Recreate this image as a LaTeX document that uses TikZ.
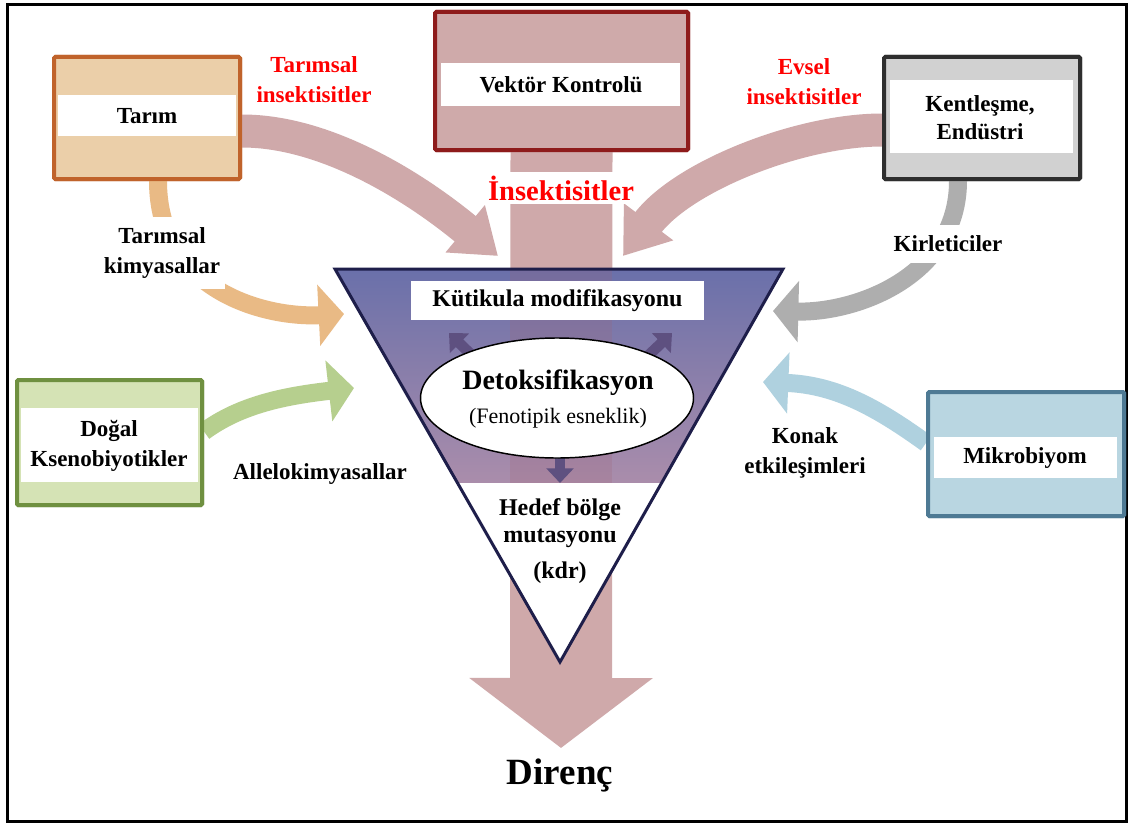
\documentclass[tikz,border=0pt]{standalone}
\usepackage{fontspec}
\setmainfont{Liberation Serif}
\usetikzlibrary{arrows.meta,calc,shapes.geometric}
\definecolor{tarimfill}{HTML}{EBCFA9}
\definecolor{tarimline}{HTML}{C0632B}
\definecolor{vekfill}{HTML}{CFAAAA}
\definecolor{vekline}{HTML}{8E1B1B}
\definecolor{kentfill}{HTML}{D1D1D1}
\definecolor{kentline}{HTML}{2E2E2E}
\definecolor{dogfill}{HTML}{D5E3B5}
\definecolor{dogline}{HTML}{6F9040}
\definecolor{mikfill}{HTML}{B9D6E1}
\definecolor{mikline}{HTML}{4E7A94}
\definecolor{pinkarr}{HTML}{CFA9AA}
\definecolor{orangearr}{HTML}{E9BA85}
\definecolor{grayarr}{HTML}{AEAEAE}
\definecolor{greenarr}{HTML}{B6CF8E}
\definecolor{bluearr}{HTML}{AFD1DF}
\definecolor{tritop}{HTML}{6A70AA}
\definecolor{trimid}{HTML}{8D80AC}
\definecolor{tribot}{HTML}{AA8DAB}
\definecolor{triline}{HTML}{1E1E4A}
\definecolor{innerarr}{HTML}{5E5080}
\definecolor{bandtint}{HTML}{A06070}
\definecolor{redtxt}{HTML}{FF0000}
\begin{document}
\begin{tikzpicture}[x=0.75pt,y=-0.75pt,
  box/.style={draw,line width=3pt,rounded corners=1pt,inner sep=0pt},
  lbl/.style={font=\fontsize{17.25}{22.5}\selectfont\bfseries,align=center,inner sep=1pt},
  redlbl/.style={lbl,text=redtxt},
  bigcurve/.style={draw=pinkarr,line width=24.75pt,-{Triangle[length=32pt,width=44pt]}},
  smallcurve/.style={line width=13.5pt,-{Triangle[length=19pt,width=45pt]}},
  innerarrow/.style={draw=innerarr,line width=8pt,-{Triangle[length=11pt,width=20pt]}},
  tritext/.style={font=\fontsize{18}{20.25}\selectfont\bfseries,align=center,inner sep=1pt}
]
\useasboundingbox (0,0) rectangle (1131,824);
\fill[white] (0,0) rectangle (1131,824);
\draw[line width=2.25pt] (7,5) rectangle (1126,821);

% boxes (nodes)
\node[box,draw=tarimline,fill=tarimfill,minimum width=139.5pt,minimum height=91.5pt] (tarim) at (147,118) {};
\node[box,draw=vekline,fill=vekfill,minimum width=189.75pt,minimum height=103.5pt] (vektor) at (561.5,81) {};
\node[box,draw=kentline,fill=kentfill,minimum width=147pt,minimum height=91.5pt] (kent) at (982,118) {};
\node[box,draw=dogline,fill=dogfill,minimum width=138.75pt,minimum height=93.75pt] (dogal) at (109.5,442.5) {};
\node[box,draw=mikline,fill=mikfill,minimum width=147pt,minimum height=93pt] (mikro) at (1026,454) {};

% end points
\coordinate (tipD) at (561,748);
\coordinate (tipTL) at (498,256);
\coordinate (tipTR) at (623,256);
\coordinate (tipOr) at (344,314);
\coordinate (tipGr) at (773,311);
\coordinate (tipGn) at (354,388);
\coordinate (tipBl) at (763,382);

% big vertical arrow
\draw[draw=pinkarr,line width=76.5pt,-{Triangle[length=52.5pt,width=135pt]}] (vektor.south) -- (tipD);

% curved arrows
\draw[bigcurve] ($(tarim.east)+(0,13)$) .. controls (330,131) and (421,192) .. (tipTL);
\draw[bigcurve] ($(kent.west)+(0,12)$) .. controls (800,130) and (683,176) .. (tipTR);
\draw[smallcurve,draw=orangearr] ($(tarim.south)+(11,0)$) .. controls (158,290) and (264,318) .. (tipOr);
\draw[smallcurve,draw=grayarr] ($(kent.south)+(-24,0)$) .. controls (958,275) and (858,313) .. (tipGr);
\draw[smallcurve,draw=greenarr] ($(dogal.east)+(0,-11)$) .. controls (240,405) and (284,396) .. (tipGn);
\draw[smallcurve,draw=bluearr] ($(mikro.west)+(0,-11)$) .. controls (880,410) and (838,385) .. (tipBl);

% redraw boxes on top of arrows
\node[box,draw=tarimline,fill=tarimfill,minimum width=139.5pt,minimum height=91.5pt] at (tarim) {};
\node[box,draw=vekline,fill=vekfill,minimum width=189.75pt,minimum height=103.5pt] at (vektor) {};
\node[box,draw=kentline,fill=kentfill,minimum width=147pt,minimum height=91.5pt] at (kent) {};
\node[box,draw=dogline,fill=dogfill,minimum width=138.75pt,minimum height=93.75pt] at (dogal) {};
\node[box,draw=mikline,fill=mikfill,minimum width=147pt,minimum height=93pt] at (mikro) {};

% white bands
\fill[white] (58,95) rectangle (236,136);
\fill[white] (441,63) rectangle (680,106);
\fill[white] (890,80) rectangle (1073,153);
\fill[white] (21,408) rectangle (198,482);
\fill[white] (934,437) rectangle (1117,478);

% box texts
\node[lbl] (tarimT) at (147,116) {Tarım};
\node[lbl] (vektorT) at (561,85) {Vektör Kontrolü};
\node[lbl,font=\fontsize{17.25}{21}\selectfont\bfseries] (kentT) at (980,118) {Kentleşme,\\Endüstri};
\node[lbl] (dogalT) at (109,446) {Doğal\\Ksenobiyotikler};
\node[lbl] (mikroT) at (1025,458) {Mikrobiyom};

% triangle
\coordinate (triA) at (335,269);
\coordinate (triB) at (783,269);
\coordinate (triC) at (560,662);
\coordinate (triL) at (457.5,483);
\coordinate (triR) at (661.6,483);
\shade[top color=tritop,middle color=trimid,bottom color=tribot] (triA) -- (triB) -- (triR) -- (triL) -- cycle;
\fill[bandtint,opacity=0.2] (510,269) rectangle (612,483);
\fill[white] (triL) -- (triR) -- (triC) -- cycle;

% inner arrows
\coordinate (inL) at (449,333);
\coordinate (inR) at (672,333);
\coordinate (inD) at (560,483);
\draw[innerarrow] (487,370) -- (inL);
\draw[innerarrow] (633,370) -- (inR);
\draw[innerarrow] (560,440) -- (inD);

\draw[triline,line width=2.25pt,line join=miter] (triA) -- (triB) -- (triC) -- cycle;

\node[fill=white,minimum width=219.75pt,minimum height=29.25pt,inner sep=0pt] (kut) at (557.5,300.5) {};
\node[tritext] (kutT) at (kut) {Kütikula modifikasyonu};
\node[ellipse,draw,fill=white,line width=1.1pt,minimum width=204.75pt,minimum height=90pt,inner sep=0pt] (ell) at (557,398) {};
\node[font=\fontsize{21}{24}\selectfont\bfseries,inner sep=1pt] (detox) at (558,383) {Detoksifikasyon};
\node[font=\fontsize{16.5}{20}\selectfont,inner sep=1pt] (feno) at (558,418) {(Fenotipik esneklik)};
\node[tritext] (hedef) at (560,541) {Hedef bölge\\mutasyonu\\[6.75pt](kdr)};

% labels
\node[fill=white,text=redtxt,font=\fontsize{21.4}{24}\selectfont\bfseries,inner xsep=2pt,inner ysep=2.5pt] (ins) at (561,188) {İnsektisitler};
\node[redlbl,fill=white] (tarIns) at (314,80) {Tarımsal\\insektisitler};
\node[redlbl,fill=white] (evsIns) at (804,82) {Evsel\\insektisitler};
\node[lbl,fill=white,inner xsep=4pt,inner ysep=8pt] (tarKim) at (162,253) {Tarımsal\\kimyasallar};
\node[lbl,fill=white,inner xsep=4pt,inner ysep=8pt] (kirl) at (948,244) {Kirleticiler};
\node[lbl] (allelo) at (320,474) {Allelokimyasallar};
\node[lbl] (konak) at (805,453) {Konak\\etkileşimleri};
\node[font=\fontsize{27.75}{30}\selectfont\bfseries,inner sep=1pt] (direnc) at (560,775) {Direnç};
\end{tikzpicture}
\end{document}
